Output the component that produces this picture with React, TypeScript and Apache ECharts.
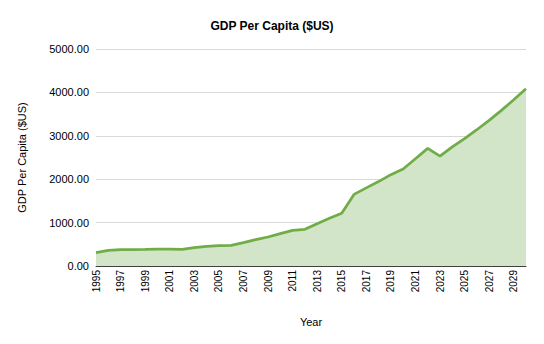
import React, { useEffect, useRef } from "react";
import * as echarts from "echarts";

const years: string[] = [];
for (let y = 1995; y <= 2030; y++) years.push(String(y));

const gdpPerCapita: number[] = [
  306, 362, 376, 380, 382, 388, 390, 385, 422, 453,
  468, 476, 538, 607, 668, 745, 822, 845, 975, 1100,
  1215, 1650, 1800, 1945, 2105, 2235, 2470, 2710, 2530, 2745,
  2935, 3140, 3355, 3585, 3830, 4085,
];

const FONT = "Liberation Sans, Arial, sans-serif";

export default function App() {
  const ref = useRef<HTMLDivElement>(null);
  useEffect(() => {
    if (!ref.current) return;
    const chart = echarts.init(ref.current, undefined, { renderer: "svg" });
    chart.setOption({
      animation: false,
      title: {
        text: "GDP Per Capita ($US)",
        left: "center",
        top: 7,
        textStyle: { fontFamily: FONT, fontSize: 12, fontWeight: "bold", color: "#000" },
      },
      grid: { left: 84, right: 10, top: 41, bottom: 70 },
      xAxis: {
        type: "category",
        data: years,
        boundaryGap: false,
        name: "Year",
        nameLocation: "middle",
        nameGap: 50,
        nameTextStyle: { fontFamily: FONT, fontSize: 11, color: "#000" },
        axisLine: { lineStyle: { color: "#404040", width: 1 } },
        axisTick: { show: false },
        axisLabel: {
          interval: 1,
          rotate: 90,
          fontFamily: FONT,
          fontSize: 10,
          color: "#000",
          margin: 4,
        },
      },
      yAxis: {
        type: "value",
        min: 0,
        max: 5000,
        interval: 1000,
        name: "GDP Per Capita ($US)",
        nameLocation: "middle",
        nameGap: 69,
        nameTextStyle: { fontFamily: FONT, fontSize: 11, color: "#000" },
        axisLine: { show: false },
        axisTick: { show: false },
        splitLine: { lineStyle: { color: "#d9d9d9", width: 1 } },
        axisLabel: {
          fontFamily: FONT,
          fontSize: 11,
          color: "#000",
          margin: 7,
          formatter: (v: number) => v.toFixed(2),
        },
      },
      series: [
        {
          type: "line",
          data: gdpPerCapita,
          symbol: "none",
          lineStyle: { color: "#70ad47", width: 2.75 },
          itemStyle: { color: "#70ad47" },
          areaStyle: { color: "#d3e5c8", opacity: 1 },
        },
      ],
    });
    return () => chart.dispose();
  }, []);
  return <div ref={ref} style={{ width: 528, height: 328 }} />;
}
